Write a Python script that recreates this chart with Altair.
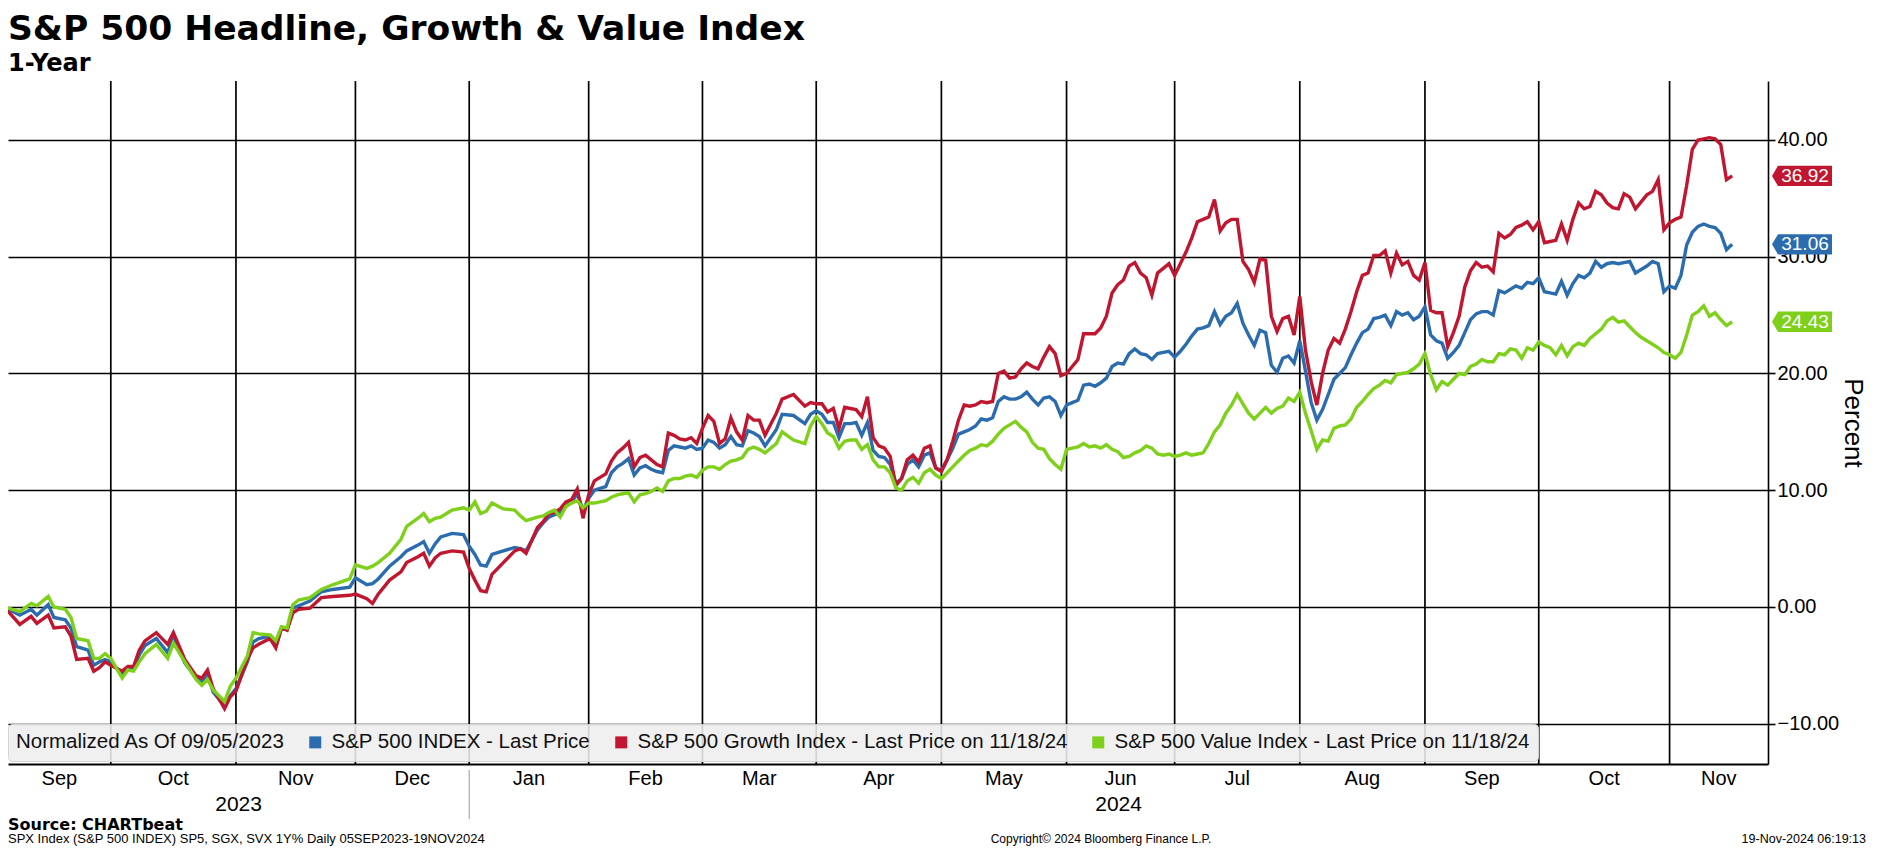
import altair as alt
import pandas as pd

# ---------------- text ----------------
TITLE = "S&P 500 Headline, Growth & Value Index"
SUBTITLE = "1-Year"
SOURCE = "Source: CHARTbeat"
FOOT_LEFT = "SPX Index (S&P 500 INDEX) SP5, SGX, SVX 1Y%  Daily 05SEP2023-19NOV2024"
FOOT_MID = "Copyright\u00a9 2024 Bloomberg Finance L.P."
FOOT_RIGHT = "19-Nov-2024 06:19:13"
LEGEND_TITLE = "Normalized As Of 09/05/2023"
Y_TITLE = "Percent"
SERIES = [
    "S&P 500 INDEX - Last Price",
    "S&P 500 Growth Index - Last Price on 11/18/24",
    "S&P 500 Value Index - Last Price on 11/18/24",
]
COLORS = ["#2b6cae", "#c0162f", "#7fd01a"]
MONTHS = ["Sep", "Oct", "Nov", "Dec", "Jan", "Feb", "Mar", "Apr", "May",
          "Jun", "Jul", "Aug", "Sep", "Oct", "Nov"]
YEARS = ["2023", "2024"]
Y_TICKS = [-10, 0, 10, 20, 30, 40]
LAST = [31.06, 36.92, 24.43]

# NYSE holidays in the window (trading-day x axis)
HOLIDAYS = ["2023-11-23", "2023-12-25", "2024-01-01", "2024-01-15", "2024-02-19",
            "2024-03-29", "2024-05-27", "2024-06-19", "2024-07-04", "2024-09-02"]

# ---------------- data ----------------
DATES = [
    # Sep 2023
    "2023-09-05", "2023-09-06", "2023-09-08", "2023-09-12", "2023-09-13", "2023-09-15", "2023-09-18",
    "2023-09-20", "2023-09-21", "2023-09-22", "2023-09-26", "2023-09-27", "2023-09-28", "2023-09-29",
    # Oct 2023
    "2023-10-02", "2023-10-04", "2023-10-05", "2023-10-06", "2023-10-09", "2023-10-10", "2023-10-12",
    "2023-10-16", "2023-10-17", "2023-10-19", "2023-10-23", "2023-10-24", "2023-10-25", "2023-10-26",
    "2023-10-30", "2023-10-31",
    # Nov 2023
    "2023-11-01", "2023-11-03", "2023-11-06", "2023-11-07", "2023-11-09", "2023-11-10", "2023-11-13",
    "2023-11-14", "2023-11-15", "2023-11-16", "2023-11-20", "2023-11-22", "2023-11-27", "2023-11-30",
    # Dec 2023
    "2023-12-01", "2023-12-05", "2023-12-06", "2023-12-07", "2023-12-11", "2023-12-13", "2023-12-14",
    "2023-12-18", "2023-12-19", "2023-12-20", "2023-12-21", "2023-12-22", "2023-12-27", "2023-12-29",
    # Jan 2024
    "2024-01-02", "2024-01-03", "2024-01-04", "2024-01-05", "2024-01-08", "2024-01-10", "2024-01-12",
    "2024-01-16", "2024-01-17", "2024-01-19", "2024-01-22", "2024-01-23", "2024-01-24", "2024-01-25",
    "2024-01-26", "2024-01-29", "2024-01-30", "2024-01-31",
    # Feb 2024
    "2024-02-01", "2024-02-02", "2024-02-06", "2024-02-07", "2024-02-08", "2024-02-09", "2024-02-12",
    "2024-02-13", "2024-02-14", "2024-02-15", "2024-02-16", "2024-02-20", "2024-02-21", "2024-02-22",
    "2024-02-23", "2024-02-26", "2024-02-27", "2024-02-28", "2024-02-29",
    # Mar 2024
    "2024-03-01", "2024-03-04", "2024-03-05", "2024-03-06", "2024-03-07", "2024-03-08", "2024-03-11",
    "2024-03-12", "2024-03-13", "2024-03-14", "2024-03-15", "2024-03-18", "2024-03-20", "2024-03-21",
    "2024-03-25", "2024-03-27", "2024-03-28",
    # Apr 2024
    "2024-04-01", "2024-04-02", "2024-04-03", "2024-04-04", "2024-04-05", "2024-04-08", "2024-04-09",
    "2024-04-10", "2024-04-11", "2024-04-12", "2024-04-15", "2024-04-16", "2024-04-17", "2024-04-18",
    "2024-04-19", "2024-04-22", "2024-04-23", "2024-04-24", "2024-04-25", "2024-04-26", "2024-04-29",
    "2024-04-30",
    # May 2024
    "2024-05-01", "2024-05-02", "2024-05-03", "2024-05-06", "2024-05-07", "2024-05-08", "2024-05-09",
    "2024-05-10", "2024-05-13", "2024-05-14", "2024-05-15", "2024-05-16", "2024-05-17", "2024-05-20",
    "2024-05-21", "2024-05-22", "2024-05-23", "2024-05-24", "2024-05-28", "2024-05-29", "2024-05-30",
    "2024-05-31",
    # Jun 2024
    "2024-06-03", "2024-06-04", "2024-06-05", "2024-06-06", "2024-06-07", "2024-06-10", "2024-06-11",
    "2024-06-12", "2024-06-13", "2024-06-14", "2024-06-17", "2024-06-18", "2024-06-20", "2024-06-21",
    "2024-06-24", "2024-06-25", "2024-06-26", "2024-06-27", "2024-06-28",
    # Jul 2024
    "2024-07-01", "2024-07-02", "2024-07-03", "2024-07-05", "2024-07-08", "2024-07-09", "2024-07-10",
    "2024-07-11", "2024-07-12", "2024-07-15", "2024-07-16", "2024-07-17", "2024-07-18", "2024-07-19",
    "2024-07-22", "2024-07-23", "2024-07-24", "2024-07-25", "2024-07-26", "2024-07-29", "2024-07-30",
    "2024-07-31",
    # Aug 2024
    "2024-08-01", "2024-08-02", "2024-08-05", "2024-08-06", "2024-08-07", "2024-08-08", "2024-08-09",
    "2024-08-12", "2024-08-13", "2024-08-14", "2024-08-15", "2024-08-16", "2024-08-19", "2024-08-20",
    "2024-08-21", "2024-08-22", "2024-08-23", "2024-08-26", "2024-08-27", "2024-08-28", "2024-08-29",
    "2024-08-30",
    # Sep 2024
    "2024-09-03", "2024-09-04", "2024-09-05", "2024-09-06", "2024-09-09", "2024-09-10", "2024-09-11",
    "2024-09-12", "2024-09-13", "2024-09-16", "2024-09-17", "2024-09-18", "2024-09-19", "2024-09-20",
    "2024-09-23", "2024-09-24", "2024-09-25", "2024-09-26", "2024-09-27", "2024-09-30",
    # Oct 2024
    "2024-10-01", "2024-10-02", "2024-10-03", "2024-10-04", "2024-10-07", "2024-10-08", "2024-10-09",
    "2024-10-10", "2024-10-11", "2024-10-14", "2024-10-15", "2024-10-16", "2024-10-17", "2024-10-18",
    "2024-10-21", "2024-10-22", "2024-10-23", "2024-10-24", "2024-10-25", "2024-10-28", "2024-10-29",
    "2024-10-30", "2024-10-31",
    # Nov 2024
    "2024-11-01", "2024-11-04", "2024-11-05", "2024-11-06", "2024-11-07", "2024-11-08", "2024-11-11",
    "2024-11-12", "2024-11-13", "2024-11-14", "2024-11-15", "2024-11-18",
]

SPX = [
    0, -0.2, -0.7, -0.2, -0.7, 0.2, -0.9, -1.1, -1.8, -3.4, -3.7, -5.0, -4.7, -4.5,
    -4.7, -5.8, -5.3, -5.3, -4.1, -3.3, -2.7, -3.9, -2.6, -4.8, -6.1, -6.4, -5.7, -7.3, -8.5, -7.6,
    -7.0, -4.7, -3.0, -2.7, -2.5, -3.4, -1.8, -1.9, -0.1, 0.1, 0.5, 1.3, 1.5, 1.7,
    2.5, 1.9, 2.0, 2.4, 3.5, 4.3, 4.8, 5.3, 5.6, 4.6, 5.4, 6.0, 6.3, 6.2,
    5.2, 4.5, 3.6, 3.5, 4.5, 4.8, 5.1, 5.0, 4.8, 6.6, 7.2, 7.7, 7.9, 8.1, 8.7, 9.0, 9.7, 8.3,
    9.3, 10.0, 10.3, 11.5, 12.0, 12.3, 12.7, 11.3, 11.9, 12.1, 11.8, 11.6, 11.5, 13.4, 13.8, 13.7, 13.6, 13.8, 13.5,
    13.6, 14.3, 14.1, 13.6, 13.9, 14.6, 13.9, 13.8, 15.1, 14.9, 14.6, 13.8, 15.2, 16.5, 16.4, 15.7, 16.5,
    16.8, 16.5, 15.8, 15.8, 14.5, 15.7, 15.7, 15.8, 14.7, 15.8, 13.4, 12.9, 12.8, 12.2, 10.6, 11.0, 12.2, 12.6, 12.0, 13.0, 13.2, 11.9,
    11.7, 12.6, 13.6, 14.8, 15.0, 15.2, 15.5, 16.1, 16.0, 16.2, 17.6, 18.0, 17.8, 17.8, 18.0, 18.4, 17.8, 17.3, 17.9, 18.0, 17.6, 16.4,
    17.3, 17.5, 17.7, 19.0, 19.1, 18.9, 19.2, 19.6, 20.6, 20.9, 20.8, 21.7, 22.1, 21.7, 21.6, 21.2, 21.7, 21.8, 21.9,
    21.4, 21.9, 22.5, 23.2, 23.8, 23.9, 24.1, 25.3, 24.2, 24.9, 25.2, 26.0, 24.3, 23.3, 22.4, 23.7, 23.5, 20.7, 20.1, 21.3, 21.5, 20.9,
    22.8, 20.2, 17.5, 16.0, 16.9, 18.2, 19.5, 20.0, 20.5, 21.6, 22.6, 23.5, 23.8, 24.7, 24.8, 25.0, 24.1, 25.3, 25.0, 25.2, 24.6, 24.9,
    25.7, 23.3, 22.8, 22.6, 21.3, 21.8, 22.4, 23.5, 24.6, 25.1, 25.3, 25.3, 25.0, 27.1, 26.9, 27.2, 27.5, 27.3, 27.8, 27.7,
    28.2, 27.0, 26.9, 26.8, 27.9, 26.7, 27.7, 28.4, 28.2, 28.6, 29.6, 29.1, 29.4, 29.5, 29.4, 29.5, 29.6, 28.6, 28.9, 29.2, 29.6, 29.4, 27.0,
    27.5, 27.3, 28.4, 31.0, 32.1, 32.6, 32.8, 32.6, 32.5, 32.0, 30.6, 31.06,
]

GROWTH = [
    0, -0.4, -1.5, -0.8, -1.4, -0.7, -1.8, -1.7, -2.5, -4.5, -4.4, -5.5, -5.2, -4.7,
    -5.0, -5.5, -5.1, -5.1, -3.7, -2.9, -2.2, -3.2, -2.2, -4.5, -5.9, -6.1, -5.4, -7.0, -8.7, -7.7,
    -7.2, -4.5, -3.5, -3.2, -2.7, -3.5, -1.8, -2.0, -0.5, -0.2, -0.1, 0.8, 0.9, 1.0,
    1.1, 0.7, 0.3, 1.1, 2.3, 3.0, 3.8, 4.3, 4.6, 3.5, 4.2, 4.6, 4.8, 4.7,
    3.3, 2.3, 1.4, 1.3, 2.8, 3.8, 4.8, 5.0, 4.6, 6.8, 7.3, 8.0, 8.1, 8.4, 9.0, 9.2, 10.1, 7.6,
    9.6, 10.8, 11.4, 12.5, 13.2, 13.6, 14.1, 12.0, 12.8, 13.0, 12.6, 12.2, 12.0, 14.9, 14.7, 14.4, 14.3, 14.5, 14.0,
    15.3, 16.4, 15.9, 14.0, 14.4, 16.2, 15.0, 14.3, 16.4, 16.0, 16.0, 14.7, 16.6, 17.8, 18.2, 17.2, 17.5,
    17.4, 17.4, 16.7, 17.0, 15.3, 17.1, 17.0, 16.9, 16.3, 18.0, 14.5, 13.8, 13.6, 12.9, 10.4, 11.0, 12.6, 13.0, 12.4, 13.6, 13.8, 11.9,
    11.6, 12.6, 14.2, 16.0, 17.3, 17.2, 17.3, 17.6, 17.5, 17.6, 20.0, 20.2, 19.6, 19.7, 20.4, 20.9, 20.6, 20.4, 21.4, 22.3, 21.7, 19.8,
    20.0, 20.6, 21.2, 23.4, 23.4, 23.4, 23.9, 24.9, 26.9, 27.6, 28.0, 29.2, 29.5, 28.6, 28.2, 26.7, 28.6, 29.0, 29.4,
    28.4, 29.4, 30.4, 31.6, 33.0, 33.2, 33.4, 34.9, 32.2, 32.9, 33.2, 33.2, 29.6, 28.9, 27.8, 29.8, 29.7, 24.9, 23.6, 24.7, 24.9, 23.3,
    26.6, 22.0, 19.3, 17.3, 20.0, 22.0, 23.0, 22.6, 23.8, 25.3, 27.0, 28.4, 28.6, 30.1, 30.1, 30.5, 28.6, 30.3, 29.3, 29.6, 28.4, 28.0,
    29.5, 25.4, 25.2, 25.2, 22.3, 23.5, 24.9, 27.4, 28.8, 29.5, 29.1, 29.2, 28.7, 32.0, 31.6, 31.9, 32.5, 32.7, 33.0, 32.3,
    33.0, 31.2, 31.3, 31.4, 32.8, 31.4, 33.2, 34.6, 34.1, 34.3, 35.6, 35.3, 34.6, 34.2, 34.1, 35.4, 35.1, 34.1, 34.7, 35.3, 35.6, 36.6, 32.3,
    32.9, 33.2, 33.4, 36.1, 39.2, 40.0, 40.1, 40.2, 40.1, 39.6, 36.6, 36.92,
]

VALUE = [
    0, -0.1, -0.4, 0.3, 0.1, 0.9, 0.0, -0.2, -0.9, -2.7, -2.9, -4.4, -4.4, -4.0,
    -4.4, -6.1, -5.4, -5.5, -4.7, -4.0, -3.2, -4.4, -3.1, -4.7, -6.2, -6.7, -6.2, -7.1, -8.1, -6.8,
    -6.1, -4.2, -2.2, -2.3, -2.4, -2.9, -1.7, -1.8, 0.2, 0.6, 0.8, 1.5, 1.9, 2.4,
    3.6, 3.3, 3.5, 3.8, 4.6, 5.8, 6.9, 7.6, 8.0, 7.3, 7.6, 7.7, 8.3, 8.5,
    8.3, 9.0, 8.0, 8.2, 8.9, 8.4, 8.3, 7.8, 7.4, 7.7, 7.8, 8.1, 8.3, 7.7, 8.6, 8.9, 9.1, 8.5,
    8.9, 8.9, 9.1, 9.4, 9.6, 9.7, 9.8, 9.0, 9.6, 9.7, 9.9, 10.2, 9.9, 10.8, 11.0, 11.0, 11.2, 11.3, 11.1,
    11.7, 12.0, 12.0, 11.8, 12.2, 12.5, 12.6, 12.8, 13.5, 13.7, 13.5, 13.2, 14.0, 15.0, 14.3, 14.0, 15.5,
    16.3, 15.7, 14.9, 14.6, 13.6, 14.2, 14.3, 14.3, 13.5, 13.9, 12.6, 12.0, 12.0, 11.5, 10.2, 10.0, 10.8, 11.1, 10.6, 11.5, 11.8, 11.3,
    11.0, 11.5, 12.0, 12.5, 13.0, 13.4, 13.6, 13.9, 13.8, 14.2, 14.8, 15.3, 15.6, 15.9, 15.4, 15.0, 14.1, 13.6, 13.5, 12.7, 12.2, 11.8,
    13.5, 13.6, 13.7, 14.0, 13.7, 13.8, 13.6, 13.9, 13.5, 13.3, 12.8, 12.9, 13.2, 13.4, 13.8, 13.6, 13.1, 13.0, 13.1,
    12.9, 13.0, 13.2, 13.0, 13.1, 13.2, 14.0, 15.0, 15.6, 16.6, 17.3, 18.2, 17.4, 16.6, 16.1, 16.6, 17.1, 16.6, 17.0, 17.2, 17.9, 17.6,
    18.4, 16.6, 15.1, 13.5, 14.3, 14.2, 15.3, 15.5, 15.6, 16.1, 17.1, 17.6, 18.2, 18.7, 19.0, 19.4, 19.2, 19.9, 20.0, 20.1, 20.4, 20.8,
    21.7, 19.9, 18.6, 19.3, 19.0, 19.5, 20.0, 19.9, 20.6, 20.8, 21.2, 21.0, 21.0, 21.7, 21.6, 22.1, 22.0, 21.3, 22.2, 22.0,
    22.7, 22.4, 22.2, 21.6, 22.4, 21.5, 22.3, 22.6, 22.4, 23.0, 23.4, 23.8, 24.5, 24.8, 24.4, 24.5, 24.0, 23.5, 23.1, 22.8, 22.5, 22.2, 21.8,
    21.6, 21.3, 21.8, 23.3, 25.0, 25.3, 25.8, 24.9, 25.2, 24.6, 24.1, 24.43,
]

for _name, _vals in (("SPX", SPX), ("GROWTH", GROWTH), ("VALUE", VALUE)):
    if len(_vals) != len(DATES):
        raise ValueError(f"{_name} has {len(_vals)} values, DATES has {len(DATES)}")

# ---------------- layout ----------------
W, H = 1760, 683
X_MIN, X_MAX = 0.93, 310.3
Y_MIN, Y_MAX = -13.45, 45.05
SANS = "Liberation Sans, Arial, sans-serif"
BOX = "M -1 0 L -0.8 -0.34 L 1 -0.34 L 1 0.34 L -0.8 0.34 Z"

# trading-day calendar -> x position
CAL = pd.bdate_range("2023-09-05", "2024-11-18", freq="C", holidays=HOLIDAYS)
pos = pd.Series(range(len(CAL)), index=CAL)
idx = CAL.searchsorted(pd.to_datetime(DATES))

rows = []
for name, vals in zip(SERIES, [SPX, GROWTH, VALUE]):
    for i, d, v in zip(idx, DATES, vals):
        rows.append({"i": int(i), "date": d, "v": v, "s": name})
df = pd.DataFrame(rows)

starts = [int(x) for x in pos.groupby([CAL.year, CAL.month]).min().values]
bounds = [X_MIN] + starts[1:] + [X_MAX]
centers = [(a + b) / 2 for a, b in zip(bounds[:-1], bounds[1:])]
months_df = pd.DataFrame({"i": centers, "t": MONTHS})
grid_df = pd.DataFrame({"i": starts[1:]})
jan = starts[4]
years_df = pd.DataFrame({"i": [(X_MIN + jan) / 2, (jan + X_MAX) / 2], "t": YEARS})
sep_df = pd.DataFrame({"i": [jan]})
last_df = pd.DataFrame({"s": SERIES, "v": LAST, "t": [f"{v:.2f}" for v in LAST]})

XS = alt.Scale(domain=[X_MIN, X_MAX], nice=False, zero=False)
YS = alt.Scale(domain=[Y_MIN, Y_MAX], nice=False, zero=False)
CS = alt.Scale(domain=SERIES, range=COLORS)

grid = alt.Chart(grid_df).mark_rule(color="black", strokeWidth=1.7).encode(
    x=alt.X("i:Q", scale=XS, axis=None), y=alt.value(0), y2=alt.value(H))

lines = alt.Chart(df).mark_line(strokeWidth=3.4, clip=True).encode(
    x=alt.X("i:Q", scale=XS, axis=alt.Axis(labels=False, ticks=False, grid=False, domain=True,
                                           domainColor="black", domainWidth=2, title=None)),
    y=alt.Y("v:Q", scale=YS, axis=alt.Axis(
        orient="right", values=Y_TICKS, format=".2f", grid=True, gridColor="black",
        gridWidth=1.7, gridOpacity=1, domainColor="black", domainWidth=1.6,
        tickColor="black", tickSize=7, tickWidth=1.6, labelFont=SANS, labelFontSize=20,
        labelColor="black", labelPadding=2, title=Y_TITLE, titleFont=SANS, titleFontSize=26,
        titleFontWeight="normal", titleColor="black", titleAngle=90, titleX=84, titleY=H / 2,
        titleAlign="center", titleBaseline="middle")),
    color=alt.Color("s:N", scale=CS, legend=None),
    detail="s:N",
)

boxes = alt.Chart(last_df).mark_point(shape=BOX, size=3600, filled=True, opacity=1,
                                      strokeWidth=0).encode(
    x=alt.value(1794),
    y=alt.Y("v:Q", scale=YS, axis=None),
    color=alt.Color("s:N", scale=CS, legend=alt.Legend(
        orient="none", legendX=0, legendY=643, direction="horizontal",
        title=LEGEND_TITLE, titleOrient="left", titleFont=SANS, titleFontSize=20.5,
        titleFontWeight="normal", titleColor="#111111", titlePadding=20, titleLimit=1000,
        labelFont=SANS, labelFontSize=20.5, labelColor="#111111", labelOffset=6, labelLimit=1000,
        symbolType="square", symbolSize=144, symbolStrokeWidth=0, symbolOpacity=1,
        columnPadding=20, padding=8, fillColor="rgba(238,238,238,0.88)",
        strokeColor="#d4d4d4", cornerRadius=4)),
)

boxtext = alt.Chart(last_df).mark_text(color="white", font=SANS, fontSize=19, align="center",
                                       baseline="middle").encode(
    x=alt.value(1797), y=alt.Y("v:Q", scale=YS, axis=None), text="t:N")

mlabels = alt.Chart(months_df).mark_text(font=SANS, fontSize=20, align="center",
                                         baseline="middle", color="black").encode(
    x=alt.X("i:Q", scale=XS, axis=None), y=alt.value(H + 15), text="t:N")

ylabels = alt.Chart(years_df).mark_text(font=SANS, fontSize=21, align="center",
                                        baseline="middle", color="black").encode(
    x=alt.X("i:Q", scale=XS, axis=None), y=alt.value(H + 41), text="t:N")

ysep = alt.Chart(sep_df).mark_rule(color="#9a9a9a", strokeWidth=1).encode(
    x=alt.X("i:Q", scale=XS, axis=None), y=alt.value(H + 6), y2=alt.value(H + 55))


def label(txt, x, y, size, weight="normal", align="left", font=SANS):
    return alt.Chart(pd.DataFrame({"t": [txt]})).mark_text(
        font=font, fontSize=size, fontWeight=weight, align=align, baseline="alphabetic",
        color="black").encode(x=alt.value(x), y=alt.value(y), text="t:N")


title = label(TITLE, 0, -41, 34.5, "bold", font="DejaVu Sans")
subtitle = label(SUBTITLE, 0, -10, 24, "bold", font="DejaVu Sans")
source = label(SOURCE, 0, H + 66, 16, "bold", font="DejaVu Sans")
f1 = label(FOOT_LEFT, 0, H + 79, 13)
f2 = label(FOOT_MID, 1093, H + 79, 12, align="center")
f3 = label(FOOT_RIGHT, 1858, H + 79, 12.5, align="right")

chart = alt.layer(
    grid, lines, boxes, boxtext, mlabels, ylabels, ysep, title, subtitle, source, f1, f2, f3
).resolve_axis(x="independent", y="independent").resolve_legend(color="independent").properties(
    width=W, height=H,
    padding={"left": 0, "top": 73, "right": 100, "bottom": 82},
    autosize=alt.AutoSizeParams(type="none"),
    background="white",
).configure_view(stroke=None)

chart.save("out.html", embed_options={"renderer": "svg", "actions": False})
